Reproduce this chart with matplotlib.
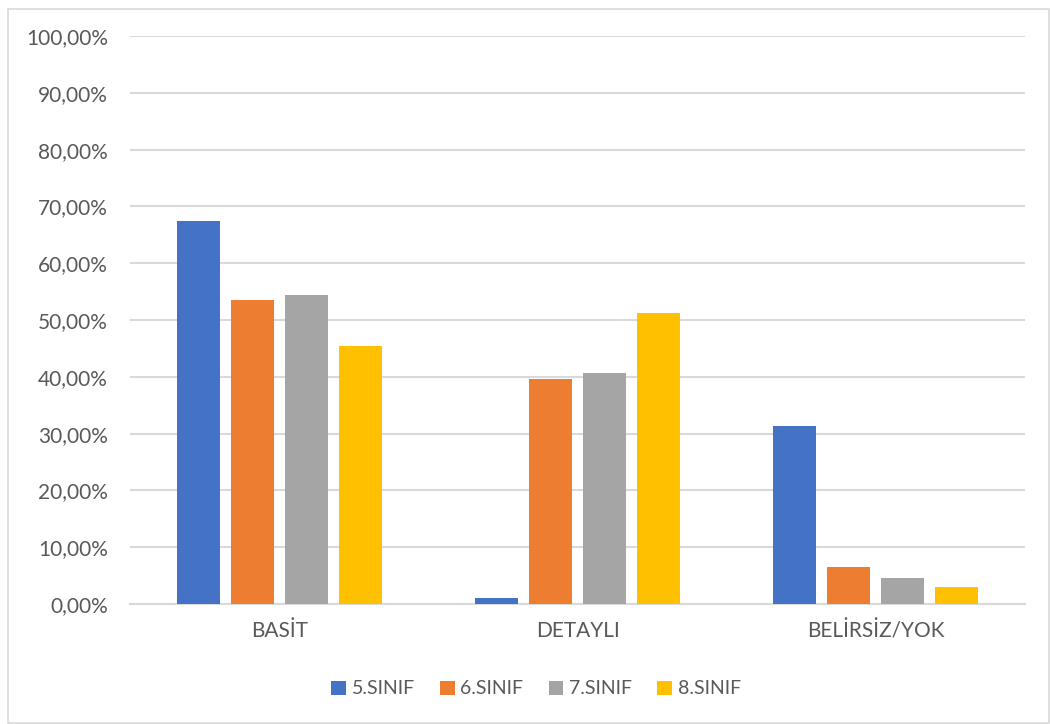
import matplotlib.pyplot as plt
import numpy as np
from matplotlib.patches import Rectangle
from matplotlib.ticker import FuncFormatter

plt.rcParams['font.family'] = ['Lato', 'DejaVu Sans']

kategoriler = ['BASİT', 'DETAYLI', 'BELİRSİZ/YOK']
siniflar = ['5.SINIF', '6.SINIF', '7.SINIF', '8.SINIF']
renkler = ['#4472C4', '#ED7D31', '#A5A5A5', '#FFC000']

# yüzde değerler (kategori sırasına göre)
sinif5 = [67.4, 1.1, 31.3]
sinif6 = [53.5, 39.7, 6.6]
sinif7 = [54.4, 40.6, 4.6]
sinif8 = [45.5, 51.3, 3.0]
degerler = [sinif5, sinif6, sinif7, sinif8]

fig = plt.figure(figsize=(10.5, 7.24), dpi=100)
ax = fig.add_axes([130 / 1050, 1 - 604 / 724, 895 / 1050, 568 / 724])

x = np.arange(len(kategoriler))
genislik = 0.145
aralik = 0.181
for i, (ad, renk, seri) in enumerate(zip(siniflar, renkler, degerler)):
    ax.bar(x + (i - 1.5) * aralik, seri, genislik, color=renk, label=ad,
           linewidth=0, zorder=3)

ax.set_xlim(-0.5, 2.5)
ax.set_ylim(0, 100)
ax.set_yticks(np.arange(0, 101, 10))
ax.yaxis.set_major_formatter(FuncFormatter(lambda v, p: f'{v:.2f}%'.replace('.', ',')))
ax.set_xticks(x)
ax.set_xticklabels(kategoriler)
ax.tick_params(axis='both', length=0, labelsize=15, colors='#595959')
ax.tick_params(axis='y', pad=16)
ax.tick_params(axis='x', pad=12)

ax.grid(axis='y', color='#D9D9D9', linewidth=1.5, zorder=0)
for s in ['top', 'right', 'left']:
    ax.spines[s].set_visible(False)
ax.spines['bottom'].set_color('#D9D9D9')
ax.spines['bottom'].set_linewidth(1.5)

leg = fig.legend(loc='center', bbox_to_anchor=(536 / 1050, 1 - 689 / 724), ncol=4,
                 frameon=False, fontsize=14, handlelength=0.75, handleheight=0.75,
                 handletextpad=0.3, columnspacing=1.3)
for t in leg.get_texts():
    t.set_color('#595959')

# dış çerçeve
fig.patches.append(Rectangle((8 / 1050, 0.002), 1 - 9 / 1050, 1 - 10 / 724,
                             transform=fig.transFigure, fill=False,
                             edgecolor='#D9D9D9', linewidth=1.2))

fig.savefig('out.png', dpi=100)
